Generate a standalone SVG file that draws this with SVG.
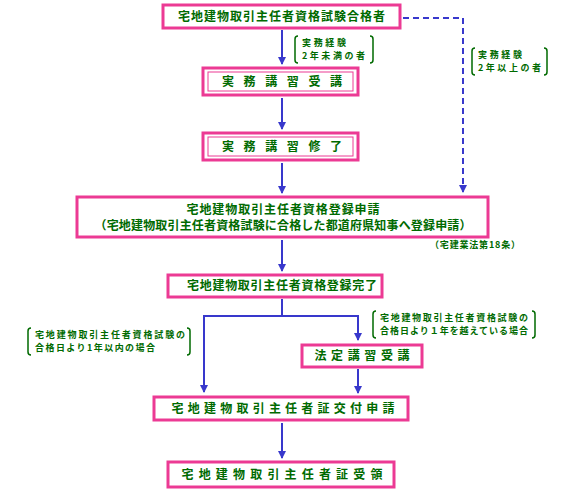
<svg xmlns="http://www.w3.org/2000/svg" width="562" height="496" viewBox="0 0 562 496">
<style>
.box{fill:#fff;stroke:#ec3a94;stroke-width:3}
.inner{fill:none;stroke:#ec3a94;stroke-width:1}
.t{font-family:"Noto Sans CJK JP","Noto Sans CJK SC",sans-serif;font-weight:bold;fill:#006a00;font-size:12px;text-anchor:middle}
.s{font-family:"Noto Sans CJK JP","Noto Sans CJK SC",sans-serif;font-weight:bold;fill:#006a00;font-size:9px}
.ln{stroke:#3838cc;stroke-width:2;fill:none}
.dash{stroke:#3838cc;stroke-width:2;fill:none;stroke-dasharray:6 4}
.br{stroke:#006a00;stroke-width:1.5;fill:none}
</style>
<defs>
<marker id="ah" markerWidth="8" markerHeight="8" refX="7" refY="4" orient="auto" markerUnits="userSpaceOnUse">
<path d="M0,0 L8,4 L0,8 Z" fill="#3838cc"/>
</marker>
</defs>
<g id="connectors">
<line class="ln" x1="282" y1="30" x2="282" y2="64" marker-end="url(#ah)"/>
<polyline class="dash" points="403,18 463,18 463,192" marker-end="url(#ah)"/>
<line class="ln" x1="282" y1="98" x2="282" y2="129" marker-end="url(#ah)"/>
<line class="ln" x1="282" y1="163" x2="282" y2="193" marker-end="url(#ah)"/>
<line class="ln" x1="282" y1="240" x2="282" y2="271" marker-end="url(#ah)"/>
<line class="ln" x1="282" y1="299" x2="282" y2="316"/>
<polyline class="ln" points="282,316 204,316 204,392" marker-end="url(#ah)"/>
<polyline class="ln" points="282,316 358,316 358,340" marker-end="url(#ah)"/>
<line class="ln" x1="358" y1="369" x2="358" y2="393" marker-end="url(#ah)"/>
<line class="ln" x1="282" y1="423" x2="282" y2="458" marker-end="url(#ah)"/>
</g>
<g id="label-mimann">
<path class="br" d="M298,36 Q295,36 295,39 V60 Q295,63 298,63"/>
<path class="br" d="M370,36 Q373,36 373,39 V60 Q373,63 370,63"/>
<text class="s" x="302" y="46" textLength="44">実務経験</text>
<text class="s" x="302" y="59" textLength="63">2年未満の者</text>
</g>
<g id="label-ijou">
<path class="br" d="M475,48 Q472,48 472,51 V72 Q472,75 475,75"/>
<path class="br" d="M544,48 Q547,48 547,51 V72 Q547,75 544,75"/>
<text class="s" x="478" y="58" textLength="44">実務経験</text>
<text class="s" x="478" y="71" textLength="63">2年以上の者</text>
</g>
<g id="n1">
<rect class="box" x="163" y="5" width="237" height="23"/>
<text class="t" x="281.5" y="21" textLength="207">宅地建物取引主任者資格試験合格者</text>
</g>
<g id="n2">
<rect class="box" x="203" y="68" width="155" height="27"/>
<rect class="inner" x="208" y="72" width="145" height="19"/>
<text class="t" x="282" y="86" textLength="120">実 務 講 習 受 講</text>
</g>
<g id="n3">
<rect class="box" x="203" y="133" width="155" height="27"/>
<rect class="inner" x="208" y="137" width="145" height="19"/>
<text class="t" x="282" y="151" textLength="120">実 務 講 習 修 了</text>
</g>
<g id="n4">
<rect class="box" x="77" y="197" width="411" height="40"/>
<text class="t" x="283" y="214" textLength="193">宅地建物取引主任者資格登録申請</text>
<text class="t" x="283" y="230" textLength="377">（宅地建物取引主任者資格試験に合格した都道府県知事へ登録申請）</text>
</g>
<g id="note">
<text class="s" x="430" y="248" textLength="90">（宅建業法第18条）</text>
</g>
<g id="n5">
<rect class="box" x="168" y="275" width="214" height="22"/>
<text class="t" x="282" y="290" textLength="190">宅地建物取引主任者資格登録完了</text>
</g>
<g id="label-left">
<path class="br" d="M31,328 Q28,328 28,331 V352 Q28,355 31,355"/>
<path class="br" d="M187,328 Q190,328 190,331 V352 Q190,355 187,355"/>
<text class="s" x="35" y="338" textLength="150">宅地建物取引主任者資格試験の</text>
<text class="s" x="35" y="351" textLength="120">合格日より1年以内の場合</text>
</g>
<g id="label-right">
<path class="br" d="M376,311 Q373,311 373,314 V335 Q373,338 376,338"/>
<path class="br" d="M532,311 Q535,311 535,314 V335 Q535,338 532,338"/>
<text class="s" x="380" y="321" textLength="148">宅地建物取引主任者資格試験の</text>
<text class="s" x="380" y="334" textLength="148">合格日より１年を越えている場合</text>
</g>
<g id="n6">
<rect class="box" x="302" y="345" width="120" height="22"/>
<text class="t" x="362" y="360" textLength="95">法定講習受講</text>
</g>
<g id="n7">
<rect class="box" x="154" y="397" width="254" height="23"/>
<text class="t" x="283" y="413" textLength="223">宅地建物取引主任者証交付申請</text>
</g>
<g id="n8">
<rect class="box" x="168" y="462" width="226" height="25"/>
<text class="t" x="282" y="479" textLength="201">宅地建物取引主任者証受領</text>
</g>
</svg>
